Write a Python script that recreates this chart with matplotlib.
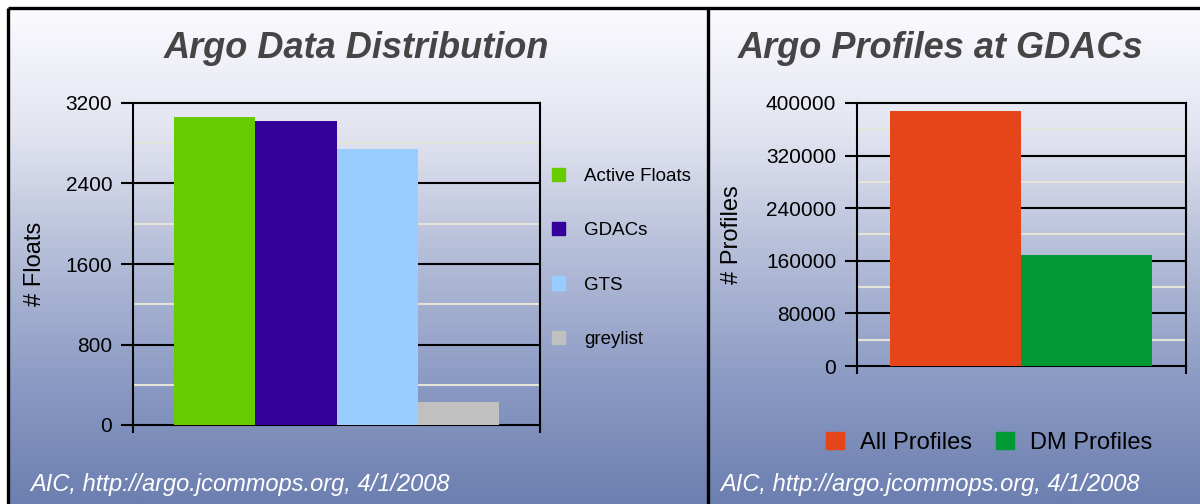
import numpy as np
import matplotlib
matplotlib.use("Agg")
import matplotlib.pyplot as plt
from matplotlib.colors import LinearSegmentedColormap
from matplotlib.patches import Patch

plt.rcParams['font.family'] = ['Liberation Sans', 'DejaVu Sans']

# left chart: float counts
float_labels = ['Active Floats', 'GDACs', 'GTS', 'greylist']
float_counts = [3065, 3025, 2745, 232]
float_colors = ['#66cc00', '#330099', '#99ccff', '#c0c0c0']
float_ticks = [0, 800, 1600, 2400, 3200]

# right chart: profiles at GDACs
prof_labels = ['All Profiles', 'DM Profiles']
prof_counts = [388000, 169000]
prof_colors = ['#e64519', '#009933']
prof_ticks = [0, 80000, 160000, 240000, 320000, 400000]

footer = 'AIC, http://argo.jcommops.org, 4/1/2008'

W, H = 1200, 504
fig = plt.figure(figsize=(W / 100, H / 100), dpi=100)

# background gradient + frame
bg = fig.add_axes([0, 0, 1, 1], zorder=-10)
bg.set_xlim(0, W)
bg.set_ylim(H, 0)
bg.axis('off')
cmap = LinearSegmentedColormap.from_list(
    'bg', ['#fbfbff', '#e2e4f0', '#b4bdd8', '#8c9bc4', '#6c7fb0'])
grad = np.linspace(0, 1, 256).reshape(-1, 1)
bg.imshow(grad, cmap=cmap, aspect='auto', extent=[8, W, H, 8])
bg.plot([8, 8], [H, 8], color='black', lw=2.4, solid_capstyle='butt')
bg.plot([8, W], [8, 8], color='black', lw=2.4, solid_capstyle='butt')
bg.plot([708, 708], [8, H], color='black', lw=2.4, solid_capstyle='butt')


def style_axes(ax, ticks, minor, xlim):
    ax.set_facecolor('none')
    for s in ax.spines.values():
        s.set_linewidth(1.5)
        s.set_color('black')
    ax.set_xlim(*xlim)
    ax.set_ylim(ticks[0], ticks[-1])
    ax.set_yticks(ticks)
    ax.set_yticklabels([str(t) for t in ticks])
    ax.set_xticks(list(xlim))
    ax.set_xticklabels([])
    ax.tick_params(axis='y', length=9, width=1.5, labelsize=15, pad=6)
    ax.tick_params(axis='x', length=6, width=1.5)
    for t in ticks[1:-1]:
        ax.axhline(t, color='black', lw=1.5, zorder=1)
    for t in minor:
        ax.axhline(t, color='#e4e4d8', lw=1.5, zorder=1)


# ---- left panel
ax1 = fig.add_axes([133 / W, 1 - 425 / H, 407 / W, 322 / H])
x1 = np.arange(len(float_counts))
ax1.bar(x1, float_counts, width=1.0, color=float_colors, zorder=3)
style_axes(ax1, float_ticks, [400, 1200, 2000, 2800], (-1.0, 4.0))
ax1.set_ylabel('# Floats', fontsize=17)
ax1.yaxis.set_label_coords(-(133 - 46) / 407, 0.5)
handles = [Patch(color=c, label=l) for c, l in zip(float_colors, float_labels)]
ax1.legend(handles=handles, loc='upper left', bbox_to_anchor=(552 / W, 1 - 168 / H),
           bbox_transform=fig.transFigure, frameon=False, fontsize=13.5,
           handlelength=0.7, handleheight=0.7, handletextpad=1.0,
           labelspacing=1.98, borderpad=0, borderaxespad=0)
fig.text(356 / W, 1 - 48 / H, 'Argo Data Distribution', ha='center', va='center',
         fontsize=26, fontweight='bold', fontstyle='italic', color='#454545')
fig.text(30 / W, 1 - 485 / H, footer, ha='left', va='center',
         fontsize=17, fontstyle='italic', color='white')

# ---- right panel
ax2 = fig.add_axes([857 / W, 1 - 366 / H, 329 / W, 263 / H])
x2 = np.arange(len(prof_counts))
ax2.bar(x2, prof_counts, width=1.0, color=prof_colors, zorder=3)
style_axes(ax2, prof_ticks, [40000, 120000, 200000, 280000, 360000], (-0.75, 1.76))
ax2.set_ylabel('# Profiles', fontsize=17)
ax2.yaxis.set_label_coords(-(857 - 743) / 329, 0.5)
handles = [Patch(color=c, label=l) for c, l in zip(prof_colors, prof_labels)]
ax2.legend(handles=handles, loc='center left', bbox_to_anchor=(826 / W, 1 - 443 / H),
           bbox_transform=fig.transFigure, frameon=False, fontsize=17, ncol=2,
           handlelength=0.75, handleheight=0.75, handletextpad=0.7,
           columnspacing=1.0, borderpad=0, borderaxespad=0)
fig.text(941 / W, 1 - 48 / H, 'Argo Profiles at GDACs', ha='center', va='center',
         fontsize=26, fontweight='bold', fontstyle='italic', color='#454545')
fig.text(720 / W, 1 - 485 / H, footer, ha='left', va='center',
         fontsize=17, fontstyle='italic', color='white')

fig.savefig('out.png', dpi=100)
